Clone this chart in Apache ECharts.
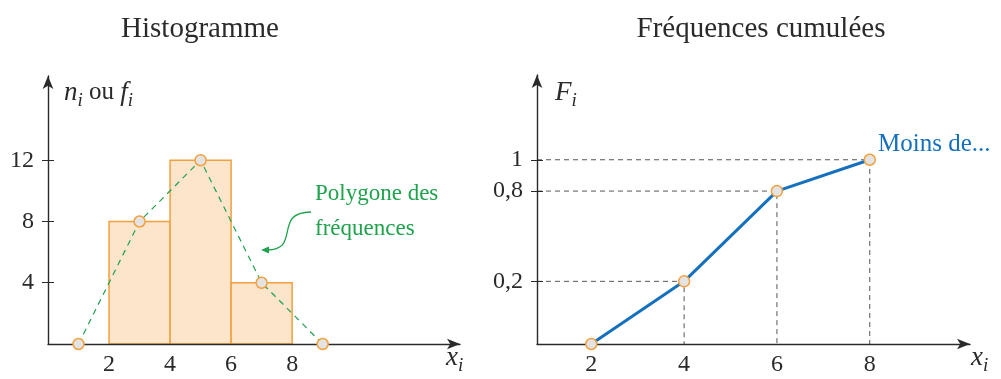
<!DOCTYPE html>
<html>
<head>
    <meta charset="utf-8">
    <title>Histogramme et fréquences cumulées</title>
    <script src="https://cdn.jsdelivr.net/npm/echarts@6/dist/echarts.min.js"></script>
    <style>
        html, body {
            height: 100%;
            margin: 0;
            padding: 0;
            background-color: #fff;
        }
    </style>
</head>
<body>
<div id="chart-box" style="width:1001px; height:379px;"></div>
<script type="text/javascript">
    // histogramme : classes [a, b[ et effectifs
    const classBounds = [[2, 4], [4, 6], [6, 8]];
    const effectifs = [8, 12, 4];
    // polygone des fréquences (milieux de classes + extrémités)
    const polygonX = [1, 3, 5, 7, 9];
    const polygonY = [0, 8, 12, 4, 0];
    const histXTicks = [2, 4, 6, 8];
    const histYTicks = [4, 8, 12];

    // fréquences cumulées (positions)
    const cumX = [2, 4, 6, 8];
    const cumF = [0, 0.34, 0.83, 1];
    const cumXTicks = [2, 4, 6, 8];
    const cumYTicks = [0.34, 0.83, 1];
    const cumYLabels = ["0,2", "0,8", "1"];

    const FONT = "Liberation Serif";
    const INK = "#2a2a2a";
    const GREEN = "#1fa24c";
    const BLUE = "#1570bd";
    const ORANGE = "#f2a03e";
    const R_XMIN = 0.83;

    const chart = echarts.init(document.getElementById("chart-box"));

    const axisBase = {
        z: 5,
        splitLine: {show: false},
        axisLine: {
            show: true,
            onZero: false,
            symbol: ["none", "arrow"],
            symbolSize: [8, 13],
            lineStyle: {color: INK, width: 1.4}
        },
        axisLabel: {fontFamily: FONT, fontSize: 24, color: INK}
    };

    // petits traits de graduation côté intérieur (les graduations traversent l'axe)
    const innerTicks = (grid, min, max, ticks) => ({
        type: "value", gridIndex: grid, min: min, max: max, position: "left", z: 5,
        splitLine: {show: false},
        axisLine: {show: false},
        axisLabel: {show: false},
        axisTick: {show: true, inside: true, length: 6, customValues: ticks, lineStyle: {color: INK}}
    });

    const guides = cumX.slice(1).map((x, i) => ({
        type: "line",
        xAxisIndex: 1,
        yAxisIndex: 1,
        z: 3,
        symbol: "none",
        silent: true,
        lineStyle: {color: "#555", width: 1, type: [5, 4]},
        data: [[R_XMIN, cumF[i + 1]], [x, cumF[i + 1]], [x, 0]]
    }));

    const pointStyle = {color: "#e3e3e3", borderColor: ORANGE, borderWidth: 1.5};

    const subName = (txt) => ({
        text: txt, fill: INK, fontFamily: FONT,
        rich: {
            it: {fontStyle: "italic", fontSize: 27, fontFamily: FONT, fill: INK},
            up: {fontSize: 25, fontFamily: FONT, fill: INK},
            sub: {fontStyle: "italic", fontSize: 19, fontFamily: FONT, fill: INK, padding: [17, 0, 0, 0]}
        }
    });

    const option = {
        animation: false,
        title: [
            {text: "Histogramme", left: 195, top: 10, textAlign: "center",
             textStyle: {fontFamily: FONT, fontSize: 29, fontWeight: "normal", color: INK}},
            {text: "Fréquences cumulées", left: 756, top: 10, textAlign: "center",
             textStyle: {fontFamily: FONT, fontSize: 29, fontWeight: "normal", color: INK}}
        ],
        grid: [
            {left: 48, top: 76, width: 412, height: 268},
            {left: 537, top: 75, width: 433, height: 269}
        ],
        xAxis: [
            Object.assign({}, axisBase, {
                type: "value", gridIndex: 0, min: 0, max: 13.5,
                axisTick: {show: false},
                axisLabel: Object.assign({}, axisBase.axisLabel, {margin: 9, customValues: histXTicks})
            }),
            Object.assign({}, axisBase, {
                type: "value", gridIndex: 1, min: R_XMIN, max: 10.16,
                axisTick: {show: false},
                axisLabel: Object.assign({}, axisBase.axisLabel, {margin: 9, customValues: cumXTicks})
            })
        ],
        yAxis: [
            Object.assign({}, axisBase, {
                type: "value", gridIndex: 0, min: 0, max: 17.5,
                axisTick: {show: true, length: 6, customValues: histYTicks, lineStyle: {color: INK}},
                axisLabel: Object.assign({}, axisBase.axisLabel, {margin: 14, customValues: histYTicks})
            }),
            Object.assign({}, axisBase, {
                type: "value", gridIndex: 1, min: 0, max: 1.46,
                axisTick: {show: true, length: 6, customValues: cumYTicks, lineStyle: {color: INK}},
                axisLabel: Object.assign({}, axisBase.axisLabel, {
                    margin: 14, customValues: cumYTicks,
                    formatter: v => {
                        let k = 0;
                        cumYTicks.forEach((t, i) => { if (Math.abs(t - v) < Math.abs(cumYTicks[k] - v)) k = i; });
                        return cumYLabels[k];
                    }
                })
            }),
            innerTicks(0, 0, 17.5, histYTicks),
            innerTicks(1, 0, 1.46, cumYTicks)
        ],
        graphic: [
            {type: "text", left: 64, top: 79, z: 20, style: subName("{it|n}{sub|i}{up| ou }{it|f}{sub|i}")},
            {type: "text", left: 555, top: 79, z: 20, style: subName("{it|F}{sub|i}")},
            {type: "text", left: 446, top: 344, z: 20, style: subName("{it|x}{sub|i}")},
            {type: "text", left: 971, top: 344, z: 20, style: subName("{it|x}{sub|i}")},
            {type: "text", left: 315, top: 176, z: 20,
             style: {text: "Polygone des\nfréquences", fill: GREEN, fontFamily: FONT, fontSize: 23, lineHeight: 35}},
            {type: "bezierCurve", z: 20,
             shape: {x1: 311, y1: 212, cpx1: 272, cpy1: 212, cpx2: 302, cpy2: 251, x2: 266, y2: 250},
             style: {stroke: GREEN, lineWidth: 1.3, fill: null}},
            {type: "polygon", z: 20,
             shape: {points: [[261, 250], [269, 246.5], [269, 253.5]]},
             style: {fill: GREEN}}
        ],
        series: [
            {
                type: "custom",
                xAxisIndex: 0,
                yAxisIndex: 0,
                z: 2,
                encode: {x: [0, 1], y: 2},
                data: classBounds.map((b, i) => [b[0], b[1], effectifs[i]]),
                renderItem: (params, api) => {
                    const p0 = api.coord([api.value(0), api.value(2)]);
                    const p1 = api.coord([api.value(1), 0]);
                    return {
                        type: "rect",
                        shape: {x: p0[0], y: p0[1], width: p1[0] - p0[0], height: p1[1] - p0[1]},
                        style: {fill: "#fce5cb", stroke: ORANGE, lineWidth: 1.5}
                    };
                }
            },
            {
                type: "line",
                xAxisIndex: 0,
                yAxisIndex: 0,
                z: 10,
                symbol: "circle",
                symbolSize: 11,
                showAllSymbol: true,
                itemStyle: pointStyle,
                lineStyle: {color: GREEN, width: 1.2, type: [6, 5]},
                data: polygonX.map((x, i) => [x, polygonY[i]])
            },
            ...guides,
            {
                type: "line",
                xAxisIndex: 1,
                yAxisIndex: 1,
                z: 10,
                symbol: "circle",
                symbolSize: 11,
                showAllSymbol: true,
                itemStyle: pointStyle,
                lineStyle: {color: BLUE, width: 3},
                data: cumX.map((x, i) => {
                    const item = {value: [x, cumF[i]]};
                    if (i === cumX.length - 1) {
                        item.label = {
                            show: true, position: "right", offset: [-3, -15],
                            formatter: "Moins de...", fontFamily: FONT, fontSize: 25, color: BLUE
                        };
                    }
                    return item;
                })
            }
        ]
    };
    chart.setOption(option);
</script>
</body>
</html>
